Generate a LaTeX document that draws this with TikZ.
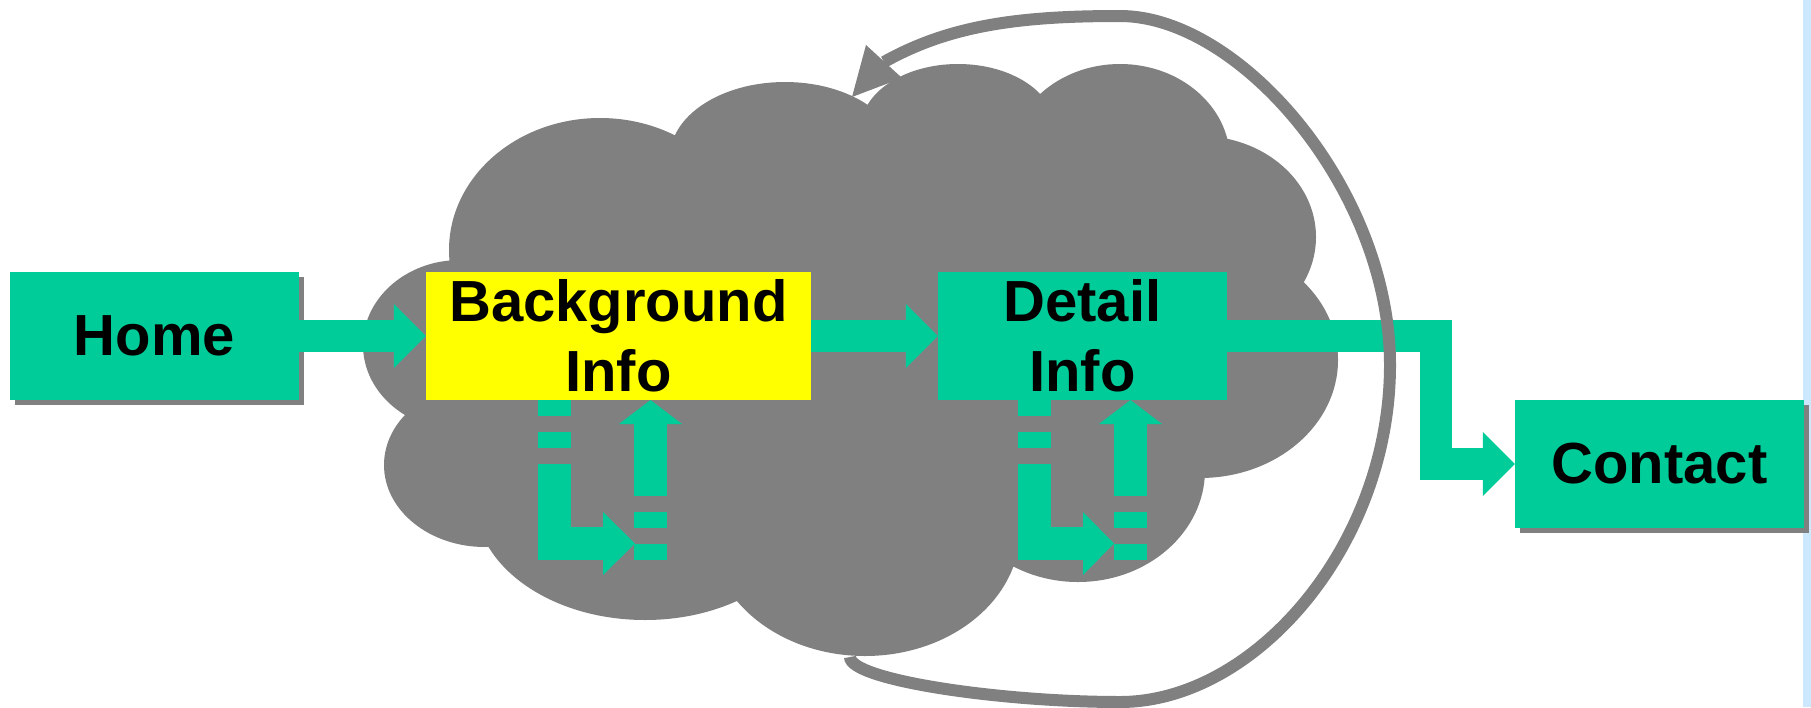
\documentclass[tikz,border=0pt]{standalone}
\usepackage{fontspec}
\setmainfont{Liberation Sans}
\usetikzlibrary{arrows.meta,shadows}
\definecolor{tgreen}{HTML}{00CC99}
\definecolor{tgray}{HTML}{808080}
\definecolor{tyellow}{HTML}{FFFF00}
\definecolor{tblue}{HTML}{CCE8FF}
\begin{document}
\begin{tikzpicture}[x=1pt,y=-1pt,
  pagebox/.style={rectangle, fill=tgreen, minimum width=289pt, minimum height=128pt,
    inner sep=0pt, align=center, text=black, font=\fontsize{58}{70}\selectfont\bfseries},
  shadowed/.style={general shadow={fill=tgray, shadow xshift=5pt, shadow yshift=-5pt}},
  fat/.style={draw=tgreen, line width=32pt, line join=miter,
    -{Triangle[length=32pt,width=64pt,line width=0pt]}},
  fatdash/.style={draw=tgreen, line width=33pt, line join=miter,
    dash pattern=on 16pt off 16pt on 16pt off 16pt on 3000pt},
  rtip/.style={-{Triangle[length=32pt,width=63pt,line width=0pt]}},
  utip/.style={-{Triangle[length=24pt,width=63pt,line width=0pt]}},
  loopline/.style={draw=tgray, line width=12pt}
]
\useasboundingbox (0,0) rectangle (1811,707);
\fill[white] (0,0) rectangle (1811,707);
\fill[tblue] (1803,0) rectangle (1811,707);

% cloud
\fill[tgray]
 (460,345) ellipse [x radius=97pt, y radius=85pt]
 (485,465) ellipse [x radius=101pt, y radius=82pt]
 (600,250) ellipse [x radius=151pt, y radius=132pt]
 (785,157) ellipse [x radius=115pt, y radius=75pt]
 (958,128) ellipse [x radius=97pt, y radius=64pt]
 (1120,160) ellipse [x radius=110pt, y radius=96pt]
 (1200,237) ellipse [x radius=116pt, y radius=101pt]
 (1200,360) ellipse [x radius=138pt, y radius=118pt]
 (1078,470) ellipse [x radius=127pt, y radius=112pt]
 (865,530) ellipse [x radius=155pt, y radius=126pt]
 (645,500) ellipse [x radius=170pt, y radius=120pt];
\fill[tgray] (460,345) -- (600,250) -- (785,157) -- (958,128) -- (1120,160) -- (1200,237)
 -- (1200,360) -- (1078,470) -- (865,530) -- (645,500) -- (485,465) -- cycle;

% boxes
\node[pagebox, shadowed] (home) at (154.5,336) {Home};
\node[pagebox, fill=tyellow, minimum width=385pt] (bg) at (618.5,336) {Background\\Info};
\node[pagebox] (detail) at (1082.5,336) {Detail\\Info};
\node[pagebox, shadowed] (contact) at (1659.5,464) {Contact};

% main arrows
\draw[fat] (home.east) -- (bg.west);
\draw[fat] (bg.east) -- (detail.west);
\draw[fat] (detail.east) -- ++(208.5,0) |- (contact.west);

% self arrows
\coordinate (bgdown) at (554.5,400);
\coordinate (bgright) at (635,543.5);
\coordinate (bgupstart) at (650.5,560);
\coordinate (bgup) at (650.5,400);
\coordinate (dtdown) at (1034.5,400);
\coordinate (dtright) at (1114,543.5);
\coordinate (dtupstart) at (1130.5,560);
\coordinate (dtup) at (1130.5,400);
\draw[fatdash, rtip] (bgdown) |- (bgright);
\draw[fatdash, utip] (bgupstart) -- (bgup);
\draw[fatdash, -{Triangle[length=31pt,width=63pt,line width=0pt]}] (dtdown) |- (dtright);
\draw[fatdash, utip] (dtupstart) -- (dtup);

% loop back
\coordinate (loopA) at (850,657);
\coordinate (loopB) at (884,62);
\draw[loopline] (loopA) .. controls (850,680) and (1000,702) .. (1120,702)
  .. controls (1255,702) and (1390,545) .. (1390,365)
  .. controls (1390,190) and (1240,16) .. (1120,16)
  .. controls (1020,16) and (950,25) .. (loopB);
\fill[tgray] (866,45) -- (902,78) -- (852,97) -- cycle;
\end{tikzpicture}
\end{document}
